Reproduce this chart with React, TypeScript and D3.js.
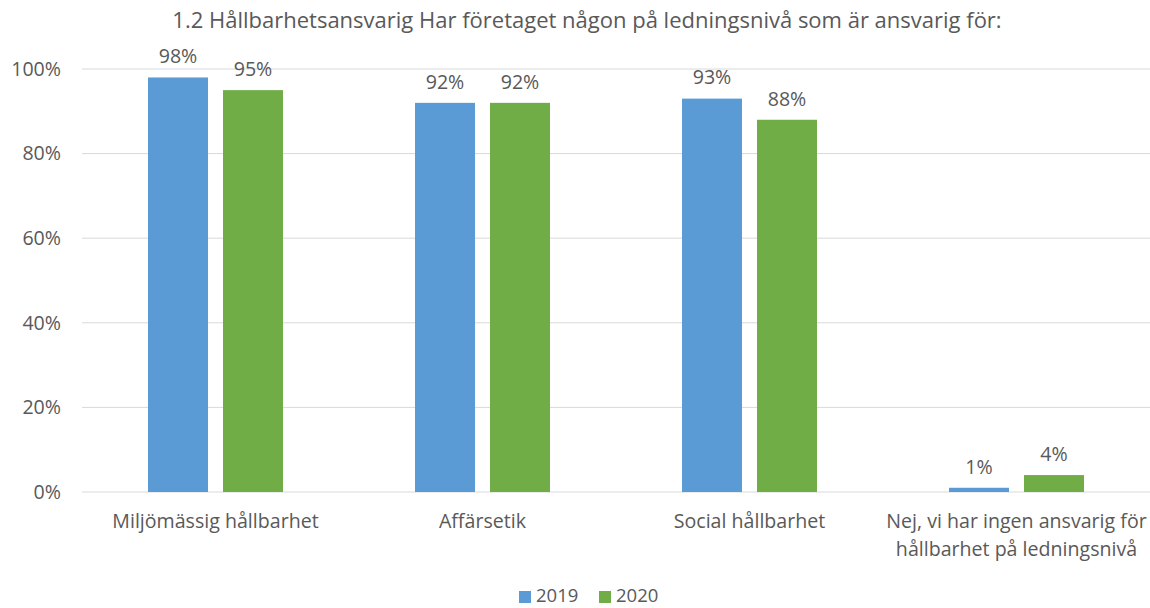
import React, { useRef, useEffect } from "react";
import * as d3 from "d3";

const categories = [
  ["Miljömässig hållbarhet"],
  ["Affärsetik"],
  ["Social hållbarhet"],
  ["Nej, vi har ingen ansvarig för", "hållbarhet på ledningsnivå"],
];
const series = ["2019", "2020"];
const values2019 = [98, 92, 93, 1];
const values2020 = [95, 92, 88, 4];
const yTicks = [0, 20, 40, 60, 80, 100];
const colors = ["#5B9BD5", "#70AD47"];
const title = "1.2 Hållbarhetsansvarig Har företaget någon på ledningsnivå som är ansvarig för:";

const App = () => {
  const svgRef = useRef<SVGSVGElement>(null);

  useEffect(() => {
    const svg = d3.select(svgRef.current);
    svg.selectAll("*").remove();

    const W = 1150;
    const H = 608;
    const margin = { top: 69, right: 0, bottom: 116, left: 82 };
    const width = W - margin.left - margin.right;
    const height = H - margin.top - margin.bottom;
    const font = "'Open Sans', sans-serif";
    const textColor = "#595959";
    const fs = "19.6px";

    svg.attr("width", W).attr("height", H).style("font-family", font);

    const keys = categories.map((c, i) => String(i));
    const x = d3.scaleBand().domain(keys).range([0, width]);
    const y = d3.scaleLinear().domain([0, 100]).range([height, 0]);
    const barW = 60;
    const gap = 15;

    const g = svg.append("g").attr("transform", `translate(${margin.left},${margin.top})`);

    // Title
    svg
      .append("text")
      .attr("x", 587)
      .attr("y", 20)
      .attr("dy", "0.35em")
      .attr("text-anchor", "middle")
      .attr("fill", textColor)
      .style("font-size", "22px")
      .text(title);

    // Gridlines + y labels
    yTicks.forEach((t) => {
      g.append("line")
        .attr("x1", 0)
        .attr("x2", width)
        .attr("y1", y(t))
        .attr("y2", y(t))
        .attr("stroke", "#d9d9d9")
        .attr("stroke-width", 1);
      g.append("text")
        .attr("x", -21)
        .attr("y", y(t))
        .attr("dy", "0.35em")
        .attr("text-anchor", "end")
        .attr("fill", textColor)
        .style("font-size", fs)
        .text(`${t}%`);
    });

    const data = [values2019, values2020];
    data.forEach((vals, si) => {
      vals.forEach((v, i) => {
        const cx = (x(String(i)) ?? 0) + x.bandwidth() / 2;
        const bx = si === 0 ? cx - gap / 2 - barW : cx + gap / 2;
        g.append("rect")
          .attr("x", bx)
          .attr("y", y(v))
          .attr("width", barW)
          .attr("height", height - y(v))
          .attr("fill", colors[si]);
        g.append("text")
          .attr("x", bx + barW / 2)
          .attr("y", y(v) - 21)
          .attr("dy", "0.35em")
          .attr("text-anchor", "middle")
          .attr("fill", textColor)
          .style("font-size", fs)
          .text(`${v}%`);
      });
    });

    // Category labels
    categories.forEach((lines, i) => {
      const cx = (x(String(i)) ?? 0) + x.bandwidth() / 2;
      lines.forEach((line, li) => {
        g.append("text")
          .attr("x", cx)
          .attr("y", height + 29 + li * 28)
          .attr("dy", "0.35em")
          .attr("text-anchor", "middle")
          .attr("fill", textColor)
          .style("font-size", fs)
          .text(line);
      });
    });

    // Legend
    const legendX = [519, 599];
    series.forEach((s, si) => {
      svg
        .append("rect")
        .attr("x", legendX[si])
        .attr("y", 591)
        .attr("width", 12)
        .attr("height", 12)
        .attr("fill", colors[si]);
      svg
        .append("text")
        .attr("x", legendX[si] + 17)
        .attr("y", 596)
        .attr("dy", "0.35em")
        .attr("fill", textColor)
        .style("font-size", "18.5px")
        .text(s);
    });
  }, []);

  return (
    <div style={{ position: "absolute", left: 0, top: 0 }}>
      <svg ref={svgRef} style={{ display: "block" }}></svg>
    </div>
  );
};

export default App;
